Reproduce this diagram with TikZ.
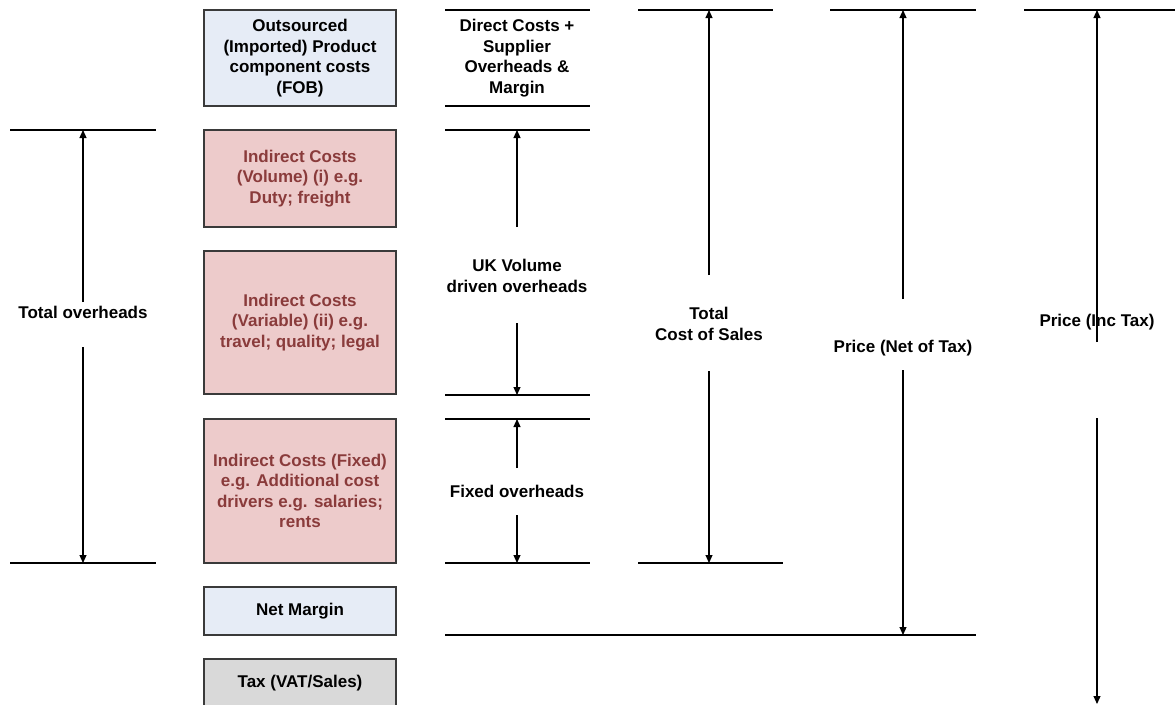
\documentclass[tikz,border=0pt]{standalone}
\usepackage{fontspec}
\setmainfont{Liberation Sans}
\usetikzlibrary{arrows.meta}
\definecolor{boxblue}{HTML}{E6ECF6}
\definecolor{boxpink}{HTML}{EDCBCB}
\definecolor{boxgrey}{HTML}{D9D9D9}
\definecolor{costred}{HTML}{8A3B3B}
\definecolor{edge}{HTML}{3A3A3A}
\begin{document}
\begin{tikzpicture}[x=1pt,y=-1pt,
  every node/.style={font=\fontsize{17}{20.5}\selectfont\bfseries, align=center, inner sep=0pt},
  costbox/.style={draw=edge, line width=1.3pt, minimum width=192pt},
  bluebox/.style={costbox, fill=boxblue, text=black},
  pinkbox/.style={costbox, fill=boxpink, text=costred},
  greybox/.style={costbox, fill=boxgrey, text=black},
  rule/.style={draw=black, line width=1.3pt},
  dim/.style={draw=black, line width=1.1pt, -{Triangle[length=8pt,width=7pt]}}
]
\useasboundingbox (0,0) rectangle (1175,704);

% cost stack
\node[bluebox, minimum height=96pt] (fob) at (300,58) {Outsourced\\(Imported) Product\\component costs\\(FOB)};
\node[pinkbox, minimum height=97pt] (vol) at (300,178.5) {Indirect Costs\\(Volume) (i) e.g.\\Duty; freight};
\node[pinkbox, minimum height=143pt] (var) at (300,322.5) {Indirect Costs\\(Variable) (ii) e.g.\\travel; quality; legal};
\node[pinkbox, minimum height=144pt] (fix) at (300,491) {Indirect Costs (Fixed)\\e.g. Additional cost\\drivers e.g. salaries;\\rents};
\node[bluebox, minimum height=48pt] (net) at (300,611) {Net Margin};
\node[greybox, minimum height=48pt] (tax) at (300,683) {Tax (VAT/Sales)};

% total overheads
\coordinate (ohTL) at (10,130);  \coordinate (ohTR) at (156,130);
\coordinate (ohBL) at (10,563);  \coordinate (ohBR) at (156,563);
\coordinate (ohT) at (83,130);   \coordinate (ohB) at (83,563);
\coordinate (ohU) at (83,302);   \coordinate (ohD) at (83,347);
\draw[rule] (ohTL) -- (ohTR);
\draw[rule] (ohBL) -- (ohBR);
\node (oh) at (83,312) {Total overheads};
\draw[dim] (ohU) -- (ohT);
\draw[dim] (ohD) -- (ohB);

% direct costs
\coordinate (dcTL) at (445,10);  \coordinate (dcTR) at (590,10);
\coordinate (dcBL) at (445,106); \coordinate (dcBR) at (590,106);
\draw[rule] (dcTL) -- (dcTR);
\draw[rule] (dcBL) -- (dcBR);
\node (dc) at (517,58) {Direct Costs +\\Supplier\\Overheads \&\\Margin};

% UK volume driven overheads
\coordinate (ukTL) at (445,130); \coordinate (ukTR) at (590,130);
\coordinate (ukBL) at (445,395); \coordinate (ukBR) at (590,395);
\coordinate (ukT) at (517,130);  \coordinate (ukB) at (517,395);
\coordinate (ukU) at (517,227);  \coordinate (ukD) at (517,323);
\draw[rule] (ukTL) -- (ukTR);
\draw[rule] (ukBL) -- (ukBR);
\node (uk) at (517,276) {UK Volume\\driven overheads};
\draw[dim] (ukU) -- (ukT);
\draw[dim] (ukD) -- (ukB);

% fixed overheads
\coordinate (fxTL) at (445,419); \coordinate (fxTR) at (590,419);
\coordinate (fxBL) at (445,563); \coordinate (fxBR) at (590,563);
\coordinate (fxT) at (517,419);  \coordinate (fxB) at (517,563);
\coordinate (fxU) at (517,468);  \coordinate (fxD) at (517,515);
\draw[rule] (fxTL) -- (fxTR);
\draw[rule] (fxBL) -- (fxBR);
\node (fx) at (517,491) {Fixed overheads};
\draw[dim] (fxU) -- (fxT);
\draw[dim] (fxD) -- (fxB);

% net margin level
\coordinate (nmL) at (445,635);  \coordinate (nmR) at (976,635);
\draw[rule] (nmL) -- (nmR);

% total cost of sales
\coordinate (csTL) at (638,10);  \coordinate (csTR) at (773,10);
\coordinate (csBL) at (638,563); \coordinate (csBR) at (783,563);
\coordinate (csT) at (709,10);   \coordinate (csB) at (709,563);
\coordinate (csU) at (709,275);  \coordinate (csD) at (709,371);
\draw[rule] (csTL) -- (csTR);
\draw[rule] (csBL) -- (csBR);
\node (cs) at (709,324) {Total\\Cost of Sales};
\draw[dim] (csU) -- (csT);
\draw[dim] (csD) -- (csB);

% price net of tax
\coordinate (pnTL) at (830,10);  \coordinate (pnTR) at (976,10);
\coordinate (pnT) at (903,10);   \coordinate (pnB) at (903,635);
\coordinate (pnU) at (903,299);  \coordinate (pnD) at (903,370);
\draw[rule] (pnTL) -- (pnTR);
\node (pn) at (903,348) {Price (Net of Tax)};
\draw[dim] (pnU) -- (pnT);
\draw[dim] (pnD) -- (pnB);

% price including tax
\coordinate (ptTL) at (1024,10); \coordinate (ptTR) at (1175,10);
\coordinate (ptT) at (1097,10);  \coordinate (ptB) at (1097,704);
\coordinate (ptU) at (1097,342); \coordinate (ptD) at (1097,418);
\draw[rule] (ptTL) -- (ptTR);
\node (pt) at (1097,322) {Price (Inc Tax)};
\draw[dim] (ptU) -- (ptT);
\draw[dim] (ptD) -- (ptB);
\end{tikzpicture}
\end{document}
